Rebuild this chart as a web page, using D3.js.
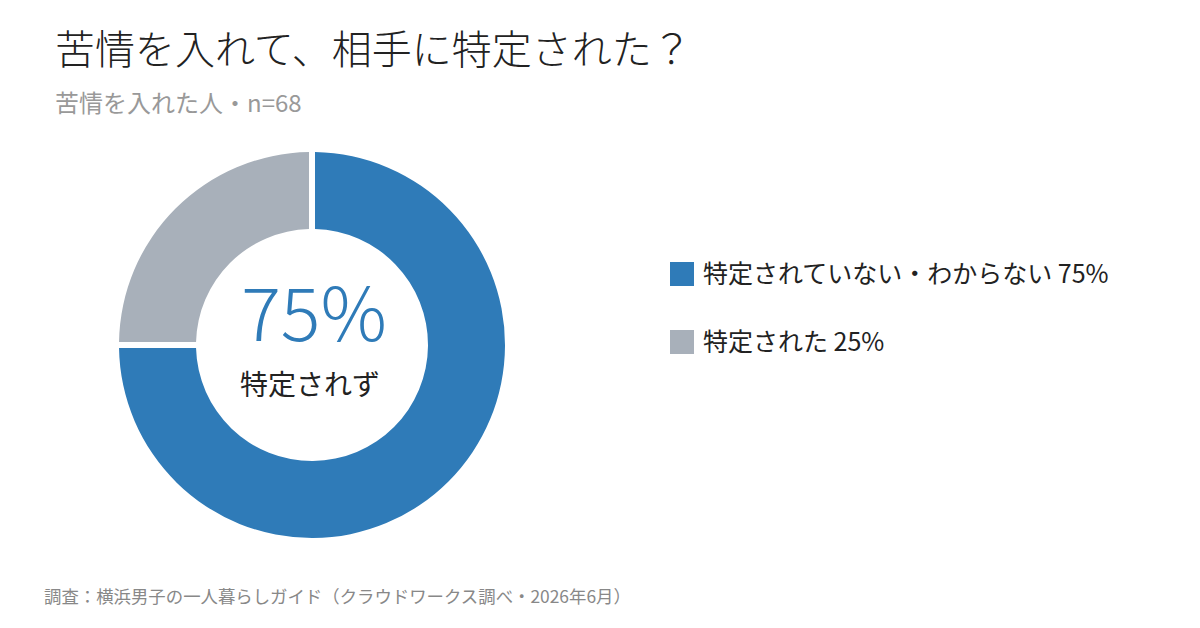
<!DOCTYPE html>
<html>
<head>
<meta charset="utf-8">
<script src="https://cdn.jsdelivr.net/npm/d3@7"></script>
<style>
  body { margin: 0; background: #fff; }
  svg text { font-family: "Noto Sans CJK JP", "Noto Sans", sans-serif; }
</style>
</head>
<body>
<div id="chart"></div>
<script>
// datos del grafico
var etiquetas = ["特定されていない・わからない", "特定された"];
var valores = [75, 25];
var colores = ["#2f7bb8", "#a8b0ba"];
var titulo = "苦情を入れて、相手に特定された？";
var subtitulo = "苦情を入れた人・n=68";
var centro_valor = "75%";
var centro_texto = "特定されず";
var fuente = "調査：横浜男子の一人暮らしガイド（クラウドワークス調べ・2026年6月）";

var width = 1200, height = 628;

var svg = d3.select("#chart").append("svg")
  .attr("width", width)
  .attr("height", height);

svg.append("rect").attr("width", width).attr("height", height).attr("fill", "#fff");

// titulos
svg.append("text")
  .attr("x", 55).attr("y", 64)
  .text(titulo)
  .style("font-size", "40px")
  .style("font-weight", 300)
  .style("fill", "#222");

svg.append("text")
  .attr("x", 55).attr("y", 112)
  .text(subtitulo)
  .style("font-size", "24px")
  .style("fill", "#999");

// dona
var cx = 312, cy = 345;
var outer = 193, inner = 116;

var pie = d3.pie().sort(null).value(d => d);
var arc = d3.arc()
  .innerRadius(inner)
  .outerRadius(outer)
  .padRadius(outer)
  .padAngle(6 / outer);

var g = svg.append("g").attr("transform", "translate(" + cx + "," + cy + ")");

g.selectAll("path")
  .data(pie(valores))
  .enter().append("path")
  .attr("d", arc)
  .attr("fill", (d, i) => colores[i]);

g.append("text")
  .attr("x", 2).attr("y", -4)
  .attr("text-anchor", "middle")
  .text(centro_valor)
  .style("font-size", "74px")
  .style("font-weight", 300)
  .style("fill", "#2f7bb8");

g.append("text")
  .attr("x", -2).attr("y", 50)
  .attr("text-anchor", "middle")
  .text(centro_texto)
  .style("font-size", "28px")
  .style("fill", "#222");

// leyenda
var legend = svg.append("g").attr("transform", "translate(670,262)");

legend.selectAll("rect")
  .data(etiquetas)
  .enter().append("rect")
  .attr("x", 0)
  .attr("y", (d, i) => i * 68)
  .attr("width", 24)
  .attr("height", 24)
  .attr("fill", (d, i) => colores[i]);

legend.selectAll("text")
  .data(etiquetas)
  .enter().append("text")
  .attr("x", 33)
  .attr("y", (d, i) => i * 68 + 21)
  .text((d, i) => d + " " + valores[i] + "%")
  .style("font-size", "25px")
  .style("fill", "#222");

// fuente
svg.append("text")
  .attr("x", 44).attr("y", 603)
  .text(fuente)
  .style("font-size", "17.4px")
  .style("fill", "#888");
</script>
</body>
</html>
